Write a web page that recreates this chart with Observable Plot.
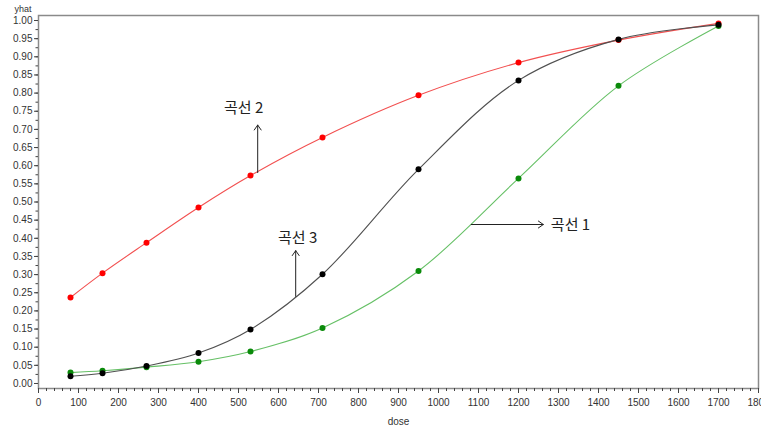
<!DOCTYPE html>
<html>
<head>
<meta charset="utf-8">
<script src="https://cdn.jsdelivr.net/npm/d3@7"></script>
<script src="https://cdn.jsdelivr.net/npm/@observablehq/plot@0.6"></script>
<style>
  html, body { margin: 0; padding: 0; background: #fff; }
  #chart svg { display: block; }
</style>
</head>
<body>
<div id="chart"></div>
<script>
// ---- data ----
const dose = [80, 160, 270, 400, 530, 710, 950, 1200, 1450, 1700];
const curve1 = [0.030, 0.035, 0.045, 0.060, 0.088, 0.153, 0.310, 0.565, 0.820, 0.985]; // green
const curve2 = [0.237, 0.304, 0.388, 0.485, 0.573, 0.678, 0.794, 0.884, 0.946, 0.992]; // red
const curve3 = [0.020, 0.028, 0.048, 0.084, 0.149, 0.301, 0.590, 0.835, 0.948, 0.988]; // black
const seriesNames = ["curve1", "curve2", "curve3"];
const seriesValues = [curve1, curve2, curve3];
const xTicks = d3.range(0, 1801, 100);
const yTicks = d3.range(0, 1.0001, 0.05);

// annotation labels (Korean) and their anchor points in data units
const annLabels = ["곡선 1", "곡선 2", "곡선 3"];
const annText = [[1330, 0.435], [513, 0.758], [648, 0.40]];
const annArrow = [[[1082, 0.438], [1262, 0.438]], [[548, 0.581], [548, 0.712]], [[643, 0.24], [643, 0.366]]];

const rows = seriesNames.flatMap((s, i) => dose.map((d, j) => ({series: s, dose: d, yhat: seriesValues[i][j]})));
const labels = annLabels.map((t, i) => ({text: t, x: annText[i][0], y: annText[i][1]}));
const arrows = annLabels.map((t, i) => ({x1: annArrow[i][0][0], y1: annArrow[i][0][1], x2: annArrow[i][1][0], y2: annArrow[i][1][1]}));

const lineColor = {curve1: "#66c066", curve2: "#f25050", curve3: "#505050"};
const dotColor = {curve1: "#0a8a0a", curve2: "#ff0000", curve3: "#000000"};

const plot = Plot.plot({
  width: 761,
  height: 428,
  marginLeft: 38,
  marginRight: 3,
  marginTop: 15,
  marginBottom: 40,
  style: {fontFamily: "'Liberation Sans Narrow', 'Liberation Sans', Arial, sans-serif", fontSize: "10px", color: "#333", background: "#fff"},
  x: {domain: [0, 1800]},
  y: {domain: [-0.0138, 1.0138]},
  marks: [
    Plot.frame({stroke: "#8a8a8a", strokeWidth: 1.5}),
    // minor ticks
    Plot.axisX({ticks: d3.range(0, 1801, 20), tickSize: 3, tickFormat: () => "", label: null, stroke: "#444"}),
    Plot.axisY({ticks: d3.range(0, 1.0001, 0.025), tickSize: 2.5, tickFormat: () => "", label: null, stroke: "#444"}),
    // major ticks
    Plot.axisX({ticks: xTicks, tickSize: 5, tickPadding: 5, tickFormat: d3.format("d"), label: "dose", labelAnchor: "center", labelArrow: "none", labelOffset: 36, stroke: "#444", fill: "#333"}),
    Plot.axisY({ticks: yTicks, tickSize: 4, tickPadding: 2, tickFormat: d3.format(".2f"), label: null, stroke: "#444", fill: "#333"}),
    Plot.text(["yhat"], {frameAnchor: "top-left", dx: -24, dy: -10, fontSize: 9, fill: "#333"}),
    Plot.line(rows, {x: "dose", y: "yhat", z: "series", stroke: d => lineColor[d.series], strokeWidth: 1.1, curve: "catmull-rom"}),
    Plot.dot(rows, {x: "dose", y: "yhat", fill: d => dotColor[d.series], r: 3, stroke: null}),
    Plot.arrow(arrows, {x1: "x1", y1: "y1", x2: "x2", y2: "y2", stroke: "#222", strokeWidth: 1, headLength: 9, headAngle: 70}),
    Plot.text(labels, {x: "x", y: "y", text: "text", fontSize: 15, fill: "#222", fontFamily: "'Noto Sans CJK KR', 'Noto Sans', sans-serif"})
  ]
});
document.getElementById("chart").appendChild(plot);
</script>
</body>
</html>
